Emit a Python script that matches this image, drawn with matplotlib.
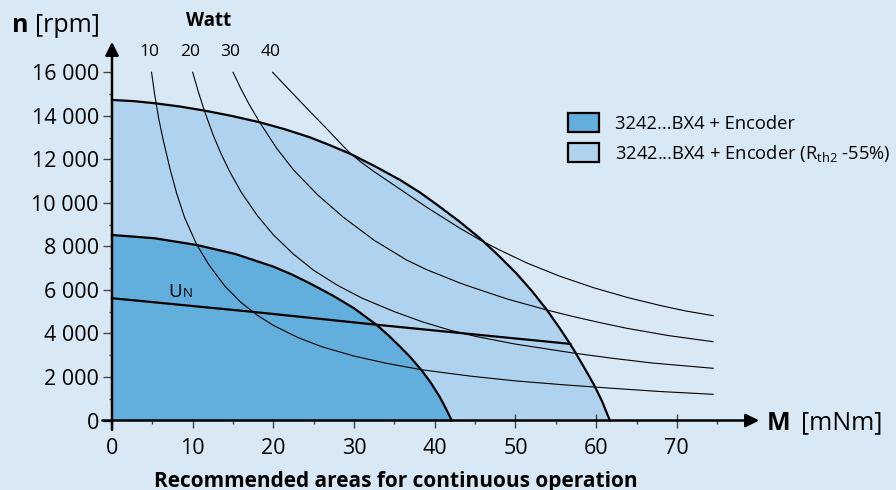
import matplotlib
matplotlib.use('Agg')
import matplotlib.pyplot as plt
from matplotlib.patches import Patch
from matplotlib.ticker import FixedLocator

plt.rcParams['font.family'] = ['Open Sans', 'DejaVu Sans']

# operating range, light area (Rth2 -55%)
m_light = [0, 2.7, 5.33, 8.4, 11.5, 14.9, 18.3, 21.4, 24.5, 27, 29.5, 32.6, 35.7, 38.2,
           40.6, 43.1, 45.6, 47.85, 50.1, 52, 53.9, 55.5, 56.7, 57.4, 58.6, 59.7, 60.7, 61.7]
n_light = [14730, 14675, 14577, 14428, 14237, 13990, 13704, 13385, 13015, 12650, 12260,
           11680, 11052, 10470, 9826, 9130, 8373, 7600, 6765, 5965, 5078, 4230, 3560,
           3140, 2380, 1660, 910, 0]

# operating range, dark area
m_dark = [0, 5.25, 10.5, 15.25, 20, 22.25, 24.5, 27.25, 30, 32.8, 34.25, 35.7, 37,
          38.4, 39.5, 40.6, 41.35, 42.1]
n_dark = [8525, 8375, 8065, 7655, 7070, 6715, 6305, 5765, 5155, 4390, 3915, 3392, 2900,
          2290, 1740, 1094, 570, 0]

# nominal voltage line U_N
m_un = [0, 17.5, 32.8, 56.8]
n_un = [5620, 4990, 4400, 3520]

# power curves (Watt)
watts = [10, 20, 30, 40]
m_w10 = [4.9, 5.3, 5.8, 6.4, 7.2, 8, 9, 10.5, 12, 14, 16, 18, 20, 23, 26, 30, 34, 38.4,
         44.4, 50, 56, 62, 68, 74.5]
n_w10 = [16000, 14950, 13850, 12800, 11550, 10450, 9320, 8080, 7160, 6170, 5420, 4840,
         4370, 3820, 3390, 2960, 2630, 2330, 2040, 1820, 1640, 1480, 1330, 1204]
m_w20 = [10, 10.7, 11.5, 12.5, 13.5, 14.6, 16, 18, 20, 22.5, 25, 28, 31, 35, 38.5, 41.9,
         45, 50, 57.4, 62, 67, 74.5]
n_w20 = [16000, 15100, 14180, 13150, 12270, 11430, 10500, 9420, 8530, 7640, 6900, 6200,
         5620, 5000, 4530, 4150, 3870, 3510, 3088, 2860, 2640, 2399]
m_w30 = [15, 16, 17, 18.3, 20.4, 22.5, 25.5, 28.7, 32.5, 36.5, 39, 41.9, 43.1, 44.4, 49,
         53.9, 57, 60.5, 63.8, 69, 74.5]
n_w30 = [16000, 15227, 14525, 13704, 12512, 11512, 10363, 9330, 8279, 7376, 6930, 6500,
         6320, 6150, 5580, 5078, 4790, 4495, 4237, 3900, 3621]
m_w40 = [19.9, 22, 24.5, 26.5, 28, 29.3, 30.7, 32.5, 34.9, 37, 39, 41, 43.1, 45.6, 48,
         51.4, 55.5, 59.7, 64, 68, 71, 74.5]
n_w40 = [16000, 15180, 14210, 13450, 12860, 12360, 11920, 11430, 10830, 10300, 9800, 9330,
         8840, 8300, 7840, 7240, 6630, 6100, 5640, 5280, 5040, 4816]

xticks = [0, 10, 20, 30, 40, 50, 60, 70]
xminor = [5, 15, 25, 35, 45, 55, 65, 75]
yticks = [0, 2000, 4000, 6000, 8000, 10000, 12000, 14000, 16000]
yminor = [1000, 3000, 5000, 7000, 9000, 11000, 13000, 15000]
legend_labels = ['3242...BX4 + Encoder',
                 r'3242...BX4 + Encoder (R$_{\mathregular{th2}}$ -55%)']

bg = '#d9e8f5'
c_light = '#afd2ee'
c_dark = '#62aedc'

W, H = 896, 490
fig = plt.figure(figsize=(W / 100, H / 100), dpi=100)
fig.patch.set_facecolor(bg)
ax = fig.add_axes([0.10699, 0.1063, 0.7565, 0.8172])
ax.set_facecolor(bg)
ax.set_xlim(-2, 82)
ax.set_ylim(-800, 17600)

ax.fill_between(m_light, n_light, 0, color=c_light, lw=0, zorder=1)
ax.fill_between(m_dark, n_dark, 0, color=c_dark, lw=0, zorder=2)

for m, n in [(m_w10, n_w10), (m_w20, n_w20), (m_w30, n_w30), (m_w40, n_w40)]:
    ax.plot(m, n, color='black', lw=0.8, zorder=3, solid_joinstyle='round')

for m, n in [(m_light, n_light), (m_dark, n_dark), (m_un, n_un)]:
    ax.plot(m, n, color='black', lw=1.6, zorder=4, solid_joinstyle='round')

# watt values above the curves
for w, m0 in zip(watts, [m_w10[0], m_w20[0], m_w30[0], m_w40[0]]):
    ax.text(m0 - 0.3, 16935, str(w), ha='center', va='center', fontsize=12.5)

ax.text(7.0, 5680, 'U', fontsize=13.5, ha='left', va='baseline', zorder=5)
ax.text(8.8, 5680, 'N', fontsize=9.5, ha='left', va='baseline', zorder=5)

# axes with arrows through the origin
for s in ['top', 'right']:
    ax.spines[s].set_visible(False)
ax.spines['bottom'].set_position(('data', 0))
ax.spines['left'].set_position(('data', 0))
ax.spines['bottom'].set_color('none')
ax.spines['left'].set_color('none')
ax.annotate('', xy=(80.2, 0), xytext=(-1.2, 0),
            arrowprops=dict(arrowstyle='-|>', lw=1.8, color='black',
                            mutation_scale=20, shrinkA=0, shrinkB=0), zorder=6)
ax.annotate('', xy=(0, 17400), xytext=(0, -430),
            arrowprops=dict(arrowstyle='-|>', lw=1.8, color='black',
                            mutation_scale=20, shrinkA=0, shrinkB=0), zorder=6)

ax.xaxis.set_major_locator(FixedLocator(xticks))
ax.xaxis.set_minor_locator(FixedLocator(xminor))
ax.yaxis.set_major_locator(FixedLocator(yticks))
ax.yaxis.set_minor_locator(FixedLocator(yminor))
ax.set_xticklabels([str(v) for v in xticks])
ax.set_yticklabels([f'{v:,}'.replace(',', ' ') for v in yticks])
ax.tick_params(axis='x', which='major', direction='inout', length=9.5,
               width=1.0, color='#444444', pad=8, labelsize=15.5)
ax.tick_params(axis='y', which='major', direction='out', length=6.5,
               width=1.0, color='#444444', pad=3, labelsize=15.5)
ax.tick_params(which='minor', direction='out', length=2.5, width=1.0, color='#444444')

# axis titles
fig.text(12 / W, 1 - 25 / H, 'n', fontsize=18, va='center', ha='left', fontweight='bold')
fig.text(35 / W, 1 - 25 / H, '[rpm]', fontsize=18, va='center', ha='left')
fig.text(767 / W, 1 - 423 / H, 'M', fontsize=18, va='center', ha='left', fontweight='bold')
fig.text(801 / W, 1 - 423 / H, '[mNm]', fontsize=18, va='center', ha='left')
fig.text(209 / W, 1 - 21 / H, 'Watt', ha='center', va='center',
         fontsize=13.5, fontweight='bold')

fig.text(395.5 / W, 1 - 481 / H, 'Recommended areas for continuous operation',
         ha='center', va='center', fontsize=15, fontweight='bold')

handles = [Patch(facecolor=c_dark, edgecolor='black', lw=1.6),
           Patch(facecolor=c_light, edgecolor='black', lw=1.6)]
ax.legend(handles, legend_labels, loc='upper left', frameon=False,
          bbox_to_anchor=(568 / W, 1 - 113 / H), bbox_transform=fig.transFigure,
          fontsize=13.2, handlelength=1.7, handleheight=1.2, handletextpad=0.85,
          labelspacing=0.55, borderpad=0, borderaxespad=0)

fig.savefig('out.png', dpi=100, facecolor=bg)
